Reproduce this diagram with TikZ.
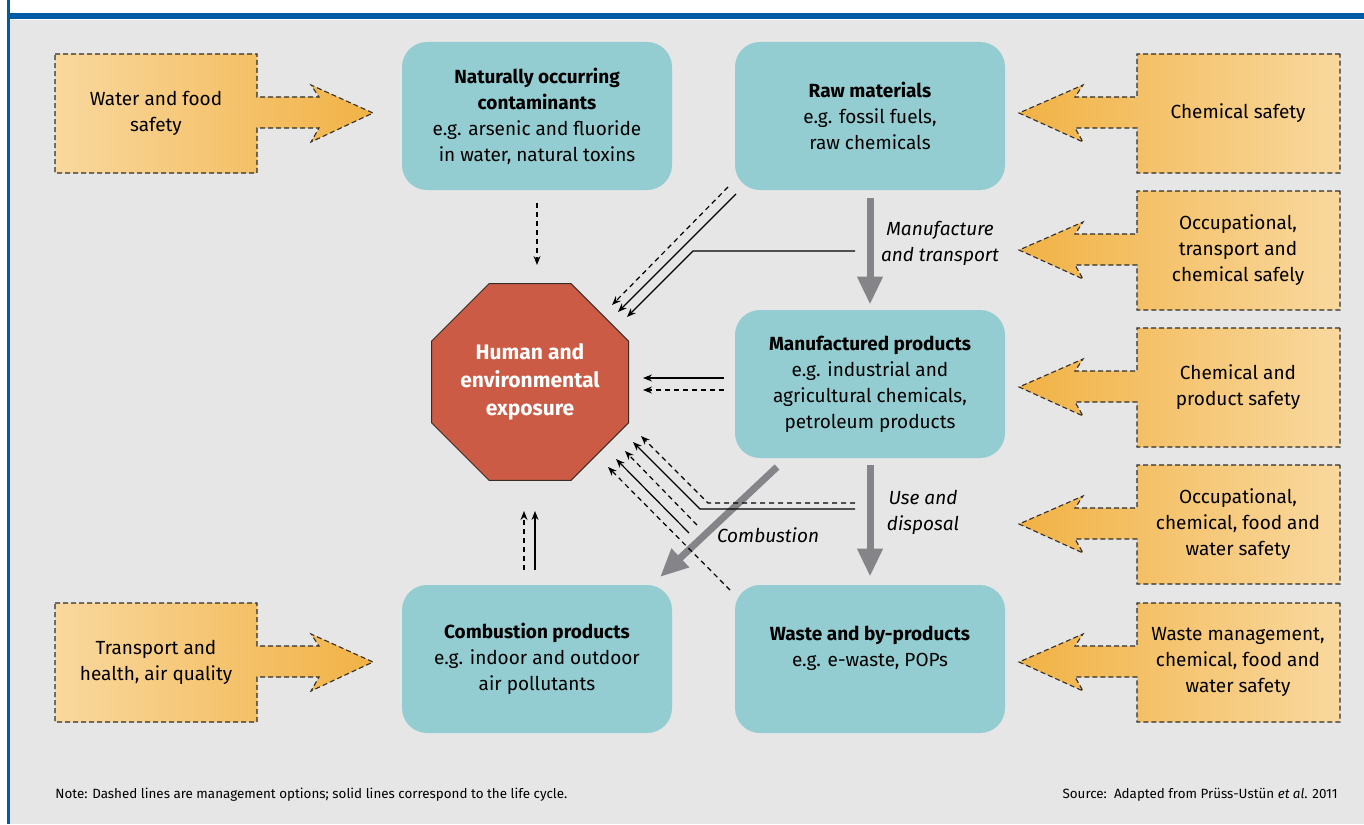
\documentclass[tikz,border=0pt]{standalone}
\usepackage{fontspec}
\setmainfont{Fira Sans}
\usetikzlibrary{shapes.geometric,arrows.meta}

\definecolor{panel}{HTML}{E6E6E6}
\definecolor{frameblue}{HTML}{005BA4}
\definecolor{stagefill}{HTML}{93CDD1}
\definecolor{octfill}{HTML}{CC5B45}
\definecolor{octline}{HTML}{3B2B27}
\definecolor{orlight}{HTML}{F9D89E}
\definecolor{ordark}{HTML}{F1B245}
\definecolor{flowgrey}{HTML}{858589}
\definecolor{outline}{HTML}{2E2E2E}

\begin{document}
\begin{tikzpicture}[x=0.5pt, y=-0.5pt,
    stage/.style = {fill=stagefill, rounded corners=12.5pt, minimum width=135pt, minimum height=74pt, align=center, font=\fontsize{9.5}{13}\selectfont},
    exposure/.style = {regular polygon, regular polygon sides=8, minimum size=100pt, inner sep=0pt, fill=octfill, draw=octline, line width=0.5pt, text=white, align=center, font=\bfseries\fontsize{10.5}{14}\selectfont},
    safety/.style = {align=center, font=\fontsize{9.5}{13}\selectfont},
    bigarrow/.style = {draw=outline, line width=0.55pt, dash pattern=on 2.5pt off 1.5pt},
    flow/.style = {draw=flowgrey, line width=3.5pt, -{Triangle[length=14pt, width=12pt]}},
    life/.style = {line width=0.6pt, -{Stealth[length=4.5pt, width=3.5pt]}},
    mgmt/.style = {life, dash pattern=on 2.5pt off 2pt},
    flowlabel/.style = {align=center, font=\itshape\fontsize{9.5}{13}\selectfont},
    footnote/.style = {inner sep=0pt, font=\fontsize{6.7}{8}\selectfont}]
    \useasboundingbox (0,0) rectangle (1364,824);
    % frame
    \fill[white] (0,0) rectangle (1364,824);
    \fill[panel] (10,20) rectangle (1364,824);
    \fill[frameblue] (8,13) rectangle (1364,19);
    \fill[frameblue] (7,0) rectangle (10,824);

    % life cycle stages
    \node[stage] (noc) at (537,116) {\textbf{Naturally occurring}\\\textbf{contaminants}\\e.g. arsenic and fluoride\\in water, natural toxins};
    \node[stage] (raw) at (870,116) {\textbf{Raw materials}\\e.g. fossil fuels,\\raw chemicals};
    \node[stage] (manu) at (870,384) {\textbf{Manufactured products}\\e.g. industrial and\\agricultural chemicals,\\petroleum products};
    \node[stage] (comb) at (537,659) {\textbf{Combustion products}\\e.g. indoor and outdoor\\air pollutants};
    \node[stage] (waste) at (870,659) {\textbf{Waste and by-products}\\e.g. e-waste, POPs\\~};
    \node[exposure] (oct) at (530,382) {Human and\\environmental\\exposure};

    % management options, left
    \foreach \yc/\n/\t in {113/wfs/{Water and food\\safety}, 662/tha/{Transport and\\health, air quality}} {
        \path[bigarrow, left color=orlight, right color=ordark] (55,{\yc-59}) -- (257,{\yc-59}) -- (257,{\yc-16}) -- (319,{\yc-16}) -- (311,{\yc-28}) -- (373,\yc) -- (311,{\yc+29}) -- (319,{\yc+15}) -- (257,{\yc+15}) -- (257,{\yc+60}) -- (55,{\yc+60}) -- cycle;
        \node[safety] (\n) at (156,\yc) {\t};
    }
    % management options, right
    \foreach \yc/\n/\t in {113/cs/{Chemical safety}, 250/otc/{Occupational,\\transport and\\chemical safely}, 387/cps/{Chemical and\\product safety}, 524/ocf/{Occupational,\\chemical, food and\\water safety}, 662/wm/{Waste management,\\chemical, food and\\water safety}} {
        \path[bigarrow, left color=ordark, right color=orlight] (1340,{\yc-59}) -- (1137,{\yc-59}) -- (1137,{\yc-16}) -- (1075,{\yc-16}) -- (1083,{\yc-28}) -- (1019,\yc) -- (1083,{\yc+29}) -- (1075,{\yc+15}) -- (1137,{\yc+15}) -- (1137,{\yc+60}) -- (1340,{\yc+60}) -- cycle;
        \node[safety] (\n) at (1238,\yc) {\t};
    }

    % main flows
    \draw[flow] ([yshift=-4pt]raw.south) -- ([yshift=2.5pt]manu.north);
    \draw[flow] ([yshift=-3.5pt]manu.south) -- ([yshift=4pt]waste.north);
    \coordinate (cbs) at (777,467);
    \coordinate (cbe) at (660,577);
    \draw[flow] (cbs) -- (cbe);
    \node[flowlabel] (mtlabel) at (940,243) {Manufacture\\and transport};
    \node[flowlabel] (udlabel) at (923,512) {Use and\\disposal};
    \node[flowlabel] (cblabel) at (768,535) {Combustion};

    % exposure paths
    \draw[mgmt] (537,203) -- (537,265);
    \draw[mgmt] (728,187) -- (612,305);
    \draw[life] (736,194) -- (618,312);
    \draw[life] (855,251) -- (693,251) -- (627,317);
    \draw[life] (724,378) -- (643,378);
    \draw[mgmt] (724,390) -- (643,390);
    \draw[mgmt] (855,503) -- (708,503) -- (641,436);
    \draw[life] (855,509) -- (700,509) -- (633,442);
    \draw[mgmt] (697,525) -- (625,451);
    \draw[life] (689,533) -- (616,459);
    \draw[mgmt] (730,590) -- (608,467);
    \draw[mgmt] (524,570) -- (524,511);
    \draw[life] (535,570) -- (535,511);

    % notes
    \node[footnote, anchor=west] (note) at (55,795) {Note: Dashed lines are management options; solid lines correspond to the life cycle.};
    \node[footnote, anchor=east] (source) at (1338,795) {Source:\ \ Adapted from Prüss-Ustün \textit{et al}. 2011};
\end{tikzpicture}
\end{document}
